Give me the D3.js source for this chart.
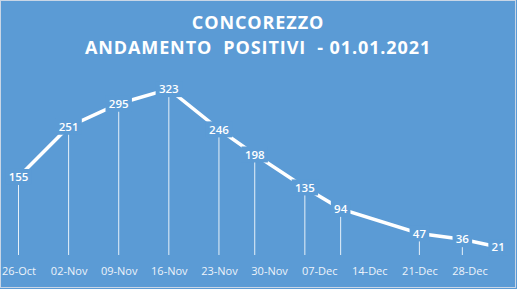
<!DOCTYPE html>
<html>
<head>
<meta charset="utf-8">
<script src="https://cdn.jsdelivr.net/npm/d3@7.9.0/dist/d3.min.js"></script>
<style>
  body { margin: 0; background: #5b9bd5; }
  svg { display: block; font-family: "Open Sans", sans-serif; }
</style>
</head>
<body>
<svg width="517" height="289"></svg>
<script>
const dates = ['2020-10-26', '2020-11-02', '2020-11-09', '2020-11-16', '2020-11-23', '2020-11-28',
  '2020-12-05', '2020-12-10', '2020-12-21', '2020-12-27', '2021-01-01'];
const positivi = [155, 251, 295, 323, 246, 198, 135, 94, 47, 36, 21];
const tickDates = ['2020-10-26', '2020-11-02', '2020-11-09', '2020-11-16', '2020-11-23', '2020-11-30',
  '2020-12-07', '2020-12-14', '2020-12-21', '2020-12-28'];
const titleLines = ['CONCOREZZO', 'ANDAMENTO  POSITIVI  - 01.01.2021'];

const bg = '#5b9bd5';
const parse = d3.timeParse('%Y-%m-%d');
const data = dates.map((d, i) => ({ date: parse(d), value: positivi[i] }));

const svg = d3.select('svg');
svg.append('rect').attr('width', 517).attr('height', 289).attr('fill', bg);
svg.append('rect').attr('x', 0.5).attr('y', 0.5).attr('width', 515).attr('height', 287)
  .attr('fill', 'none').attr('stroke', '#c9d6e6').attr('stroke-width', 1);

const x = d3.scaleTime()
  .domain([parse('2020-10-26'), parse('2020-12-28')])
  .range([18.5, 469.5]);
const y = d3.scaleLinear().domain([0, 350]).range([258, 75]);
const baseY = 255;

svg.append('g').selectAll('text')
  .data(titleLines)
  .join('text')
  .attr('x', 258)
  .attr('y', (d, i) => 29 + i * 25)
  .attr('text-anchor', 'middle')
  .attr('fill', '#fff')
  .attr('font-size', 18)
  .attr('font-weight', 'bold')
  .attr('letter-spacing', 0.9)
  .style('white-space', 'pre')
  .text(d => d);

// drop lines
svg.append('g').selectAll('line')
  .data(data)
  .join('line')
  .attr('x1', d => x(d.date)).attr('x2', d => x(d.date))
  .attr('y1', d => y(d.value)).attr('y2', baseY)
  .attr('stroke', 'rgba(255,255,255,0.85)')
  .attr('stroke-width', 1);

// main line
const line = d3.line().x(d => x(d.date)).y(d => y(d.value));
svg.append('path')
  .datum(data)
  .attr('d', line)
  .attr('fill', 'none')
  .attr('stroke', '#fff')
  .attr('stroke-width', 3.5);

// labels on the points
const labels = svg.append('g').selectAll('g')
  .data(data)
  .join('g')
  .attr('transform', d => `translate(${x(d.date)},${y(d.value)})`);
labels.append('rect')
  .attr('x', d => -String(d.value).length * 3.4 - 3)
  .attr('y', -8)
  .attr('width', d => String(d.value).length * 6.8 + 6)
  .attr('height', 16)
  .attr('fill', bg);
labels.append('text')
  .attr('text-anchor', 'middle')
  .attr('dy', '0.36em')
  .attr('fill', '#fff')
  .attr('font-size', 11.5)
  .attr('font-weight', 600)
  .text(d => d.value);

// x axis
const xAxis = d3.axisBottom(x)
  .tickValues(tickDates.map(parse))
  .tickFormat(d3.timeFormat('%d-%b'))
  .tickSize(0)
  .tickPadding(0);
const gx = svg.append('g').attr('transform', `translate(0,${baseY})`).call(xAxis);
gx.select('.domain').remove();
gx.selectAll('text')
  .attr('dy', '1.85em')
  .attr('fill', '#eef3fa')
  .attr('font-size', 11)
  .attr('font-family', '"Open Sans", sans-serif');
</script>
</body>
</html>
